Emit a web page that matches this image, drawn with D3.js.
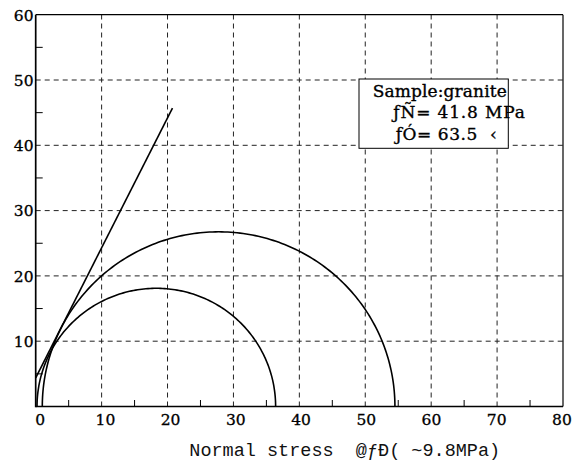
<!DOCTYPE html>
<html>
<head>
<meta charset="utf-8">
<script src="https://cdn.jsdelivr.net/npm/d3@7"></script>
<style>
  html, body { margin: 0; padding: 0; background: #fff; }
  svg { display: block; }
  text { white-space: pre; }
</style>
</head>
<body>
<svg id="chart" width="577" height="461"></svg>
<script>
// ---- data ----
const xTickValues = [0, 10, 20, 30, 40, 50, 60, 70, 80];
const yTickValues = [10, 20, 30, 40, 50, 60];
const xMinorTicks = [5, 15, 25, 35, 45, 55, 65, 75];
const yMinorTicks = [5, 15, 25, 35, 45, 55];
// Mohr circles: minor / major principal stress
const circleSigma3 = [0.2, 1.0];
const circleSigma1 = [36.4, 54.5];
// failure envelope end points
const envelopeSigma = [0, 20.75];
const envelopeTau = [4.4, 45.7];
const legendLines = ["Sample:granite", "ƒÑ= 41.8 MPa", "ƒÓ= 63.5  ‹"];
const xTitle = "Normal stress  @ƒÐ( ~9.8MPa)";

// ---- layout ----
const svg = d3.select("#chart");
const L = 35.7, R = 563, T = 14.7, B = 406.5;
const x = d3.scaleLinear().domain([0, 80]).range([L, R]);
const y = d3.scaleLinear().domain([0, 60]).range([B, T]);

svg.append("rect").attr("width", 577).attr("height", 461).attr("fill", "#fff");

// grid
const grid = svg.append("g").attr("stroke", "#222").attr("stroke-width", 1)
  .attr("stroke-dasharray", "5,4").attr("fill", "none");
grid.selectAll("line.v").data(xTickValues.filter(v => v > 0 && v < 80)).join("line")
  .attr("x1", d => x(d)).attr("x2", d => x(d)).attr("y1", B).attr("y2", T);
grid.selectAll("line.h").data(yTickValues.filter(v => v < 60)).join("line")
  .attr("class", "h")
  .attr("x1", L).attr("x2", R).attr("y1", d => y(d)).attr("y2", d => y(d));

// legend box
const box = svg.append("g");
box.append("rect").attr("x", 359).attr("y", 79).attr("width", 149.3).attr("height", 69.3)
  .attr("fill", "#fff").attr("stroke", "#000").attr("stroke-width", 1);
const legX = [372.7, 393.3, 395.7];
const legY = [96.7, 118.2, 140];
const legW = [134, 131.7, 101];
box.selectAll("text").data(legendLines).join("text")
  .attr("x", (d, i) => legX[i]).attr("y", (d, i) => legY[i])
  .attr("textLength", (d, i) => legW[i]).attr("lengthAdjust", "spacing")
  .attr("font-family", "DejaVu Serif").attr("font-size", 17)
  .attr("fill", "#000").attr("stroke", "#000").attr("stroke-width", 0.35)
  .text(d => d);

// curves
const lineGen = d3.line().x(d => x(d[0])).y(d => y(d[1]));
const angles = d3.range(0, 181).map(a => a * Math.PI / 180);
const curves = svg.append("g").attr("fill", "none").attr("stroke", "#000").attr("stroke-width", 1.6);
circleSigma3.forEach((s3, i) => {
  const s1 = circleSigma1[i];
  const c = (s1 + s3) / 2, r = (s1 - s3) / 2;
  const pts = angles.map(t => [c - r * Math.cos(t), r * Math.sin(t)]);
  curves.append("path").attr("d", lineGen(pts));
});
curves.append("path").attr("d", lineGen(envelopeSigma.map((s, i) => [s, envelopeTau[i]])));

// frame
const frame = svg.append("g").attr("stroke", "#000").attr("fill", "none");
frame.append("line").attr("x1", L).attr("x2", R).attr("y1", T).attr("y2", T).attr("stroke-width", 1.2);
frame.append("line").attr("x1", R).attr("x2", R).attr("y1", T).attr("y2", B).attr("stroke-width", 1.2);
frame.append("line").attr("x1", L).attr("x2", L).attr("y1", T).attr("y2", B + 0.8).attr("stroke-width", 1.7);
frame.append("line").attr("x1", L).attr("x2", R).attr("y1", B).attr("y2", B).attr("stroke-width", 1.7);

// minor ticks (inward)
frame.selectAll("line.xm").data(xMinorTicks).join("line").attr("class", "xm")
  .attr("x1", d => x(d)).attr("x2", d => x(d)).attr("y1", B).attr("y2", B - 6.5).attr("stroke-width", 1);
frame.selectAll("line.ym").data(yMinorTicks).join("line").attr("class", "ym")
  .attr("x1", L).attr("x2", L + 7).attr("y1", d => y(d)).attr("y2", d => y(d)).attr("stroke-width", 1);

// tick labels
svg.append("g").selectAll("text").data(xTickValues).join("text")
  .attr("x", d => x(d) + 4.5 - d * 0.07).attr("y", 424.5)
  .attr("text-anchor", "middle")
  .attr("font-family", "DejaVu Serif").attr("font-size", 15.5)
  .attr("fill", "#000").attr("stroke", "#000").attr("stroke-width", 0.3)
  .text(d => d);
svg.append("g").selectAll("text").data(yTickValues).join("text")
  .attr("x", 33.5).attr("y", d => y(d) + 5.8)
  .attr("text-anchor", "end")
  .attr("font-family", "DejaVu Serif").attr("font-size", 15.5)
  .attr("fill", "#000").attr("stroke", "#000").attr("stroke-width", 0.3)
  .text(d => d);

// axis title
svg.append("text").attr("x", 189.3).attr("y", 455.7)
  .attr("font-family", "Liberation Mono").attr("font-size", 18.5).attr("fill", "#111")
  .attr("xml:space", "preserve")
  .text(xTitle);
</script>
</body>
</html>
